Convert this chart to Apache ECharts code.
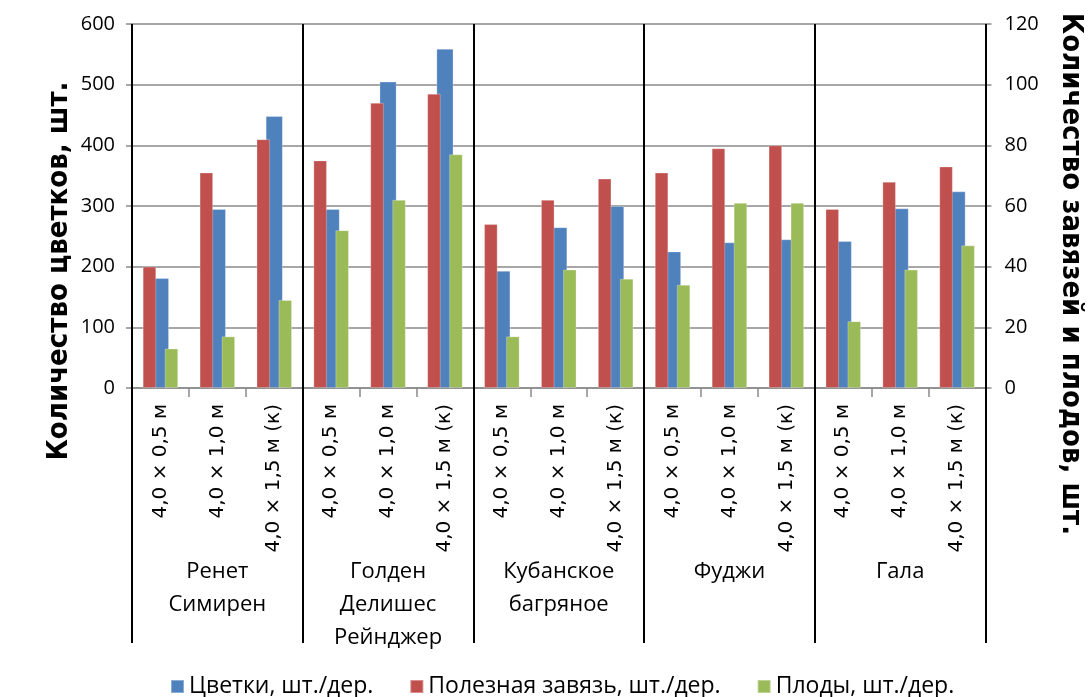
<!DOCTYPE html>
<html>
<head>
<meta charset="utf-8">
<script src="https://cdn.jsdelivr.net/npm/echarts@6/dist/echarts.min.js"></script>
<style>
  html, body { margin: 0; padding: 0; background: #fff; }
  #chart { width: 1092px; height: 697px; }
</style>
</head>
<body>
<div id="chart"></div>
<script>
// Apple varieties and planting schemes
const varieties = ['Ренет\nСимирен', 'Голден\nДелишес\nРейнджер', 'Кубанское\nбагряное', 'Фуджи', 'Гала'];
const schemes = ['4,0 × 0,5 м', '4,0 × 1,0 м', '4,0 × 1,5 м (к)'];
const categories = varieties.flatMap(() => schemes);

// Values per tree (left axis: flowers; right axis: fruit set and fruits)
const flowers = [181, 295, 448, 295, 505, 559, 193, 265, 300, 225, 240, 245, 242, 296, 324];
const fruitSet = [40, 71, 82, 75, 94, 97, 54, 62, 69, 71, 79, 80, 59, 68, 73];
const fruits = [13, 17, 29, 52, 62, 77, 17, 39, 36, 34, 61, 61, 22, 39, 47];

const leftTicks = { min: 0, max: 600, interval: 100 };
const rightTicks = { min: 0, max: 120, interval: 20 };

const seriesNames = ['Цветки, шт./дер.', 'Полезная завязь, шт./дер.', 'Плоды, шт./дер.'];
const colors = ['#4F81BD', '#C0504D', '#9BBB59'];

const txtFont = '"Open Sans", "Noto Sans", sans-serif';
const catFont = '"DejaVu Sans", sans-serif';
const titleFont = '"Liberation Sans Narrow", "DejaVu Sans Condensed", "Liberation Sans", sans-serif';
const gridGray = '#8a8a8a';

const chart = echarts.init(document.getElementById('chart'), null, { renderer: 'canvas' });

chart.setOption({
  animation: false,
  backgroundColor: '#fff',
  color: colors,
  grid: { left: 132, right: 106.5, top: 24, bottom: 309, outerBoundsMode: 'none' },
  legend: {
    data: seriesNames,
    left: 165,
    top: 670,
    icon: 'rect',
    itemWidth: 13,
    itemHeight: 13,
    itemGap: 36,
    textStyle: { fontFamily: txtFont, fontSize: 23, color: '#000' }
  },
  xAxis: [
    {
      type: 'category',
      data: categories,
      position: 'bottom',
      axisLine: { show: true, lineStyle: { color: gridGray, width: 1.5 } },
      axisTick: { show: true, interval: 0, length: 9, lineStyle: { color: gridGray, width: 1.5 } },
      axisLabel: {
        interval: 0, rotate: 90, margin: 16,
        fontFamily: catFont, fontSize: 20, color: '#000'
      },
      splitLine: { show: false }
    },
    {
      type: 'category',
      data: categories,
      position: 'bottom',
      show: false
    },
    {
      type: 'category',
      data: varieties,
      position: 'bottom',
      axisLine: { show: false },
      axisTick: { show: true, interval: 0, length: 255, lineStyle: { color: '#000', width: 2 } },
      axisLabel: {
        interval: 0, margin: 167, lineHeight: 33,
        fontFamily: txtFont, fontSize: 22, color: '#000'
      },
      splitLine: { show: true, interval: 0, lineStyle: { color: '#000', width: 2 } },
      z: 5
    }
  ],
  yAxis: [
    {
      type: 'value',
      position: 'left',
      min: leftTicks.min, max: leftTicks.max, interval: leftTicks.interval,
      axisLine: { show: true, lineStyle: { color: gridGray, width: 1.5 } },
      axisTick: { show: true, length: 6, lineStyle: { color: gridGray, width: 1.5 } },
      axisLabel: { margin: 17, fontFamily: txtFont, fontSize: 20, color: '#000' },
      splitLine: { show: true, lineStyle: { color: gridGray, width: 1.5 } }
    },
    {
      type: 'value',
      position: 'right',
      min: rightTicks.min, max: rightTicks.max, interval: rightTicks.interval,
      axisLine: { show: true, lineStyle: { color: gridGray, width: 1.5 } },
      axisTick: { show: true, length: 6, lineStyle: { color: gridGray, width: 1.5 } },
      axisLabel: { margin: 19, fontFamily: txtFont, fontSize: 20, color: '#000' },
      splitLine: { show: false }
    }
  ],
  series: [
    {
      name: seriesNames[0], type: 'bar', xAxisIndex: 0, yAxisIndex: 0,
      data: flowers, barWidth: 17,
      itemStyle: { color: colors[0], borderColor: 'rgba(255,255,255,0.35)', borderWidth: 0.8 }
    },
    {
      name: seriesNames[1], type: 'bar', xAxisIndex: 1, yAxisIndex: 1,
      data: fruitSet, barWidth: 13.4, barGap: '64%',
      itemStyle: { color: colors[1], borderColor: 'rgba(255,255,255,0.35)', borderWidth: 0.8 }
    },
    {
      name: seriesNames[2], type: 'bar', xAxisIndex: 1, yAxisIndex: 1,
      data: fruits, barWidth: 13.4, barGap: '64%',
      itemStyle: { color: colors[2], borderColor: 'rgba(255,255,255,0.35)', borderWidth: 0.8 }
    }
  ],
  graphic: [
    {
      type: 'text', x: 59, y: 271, rotation: Math.PI / 2,
      style: {
        text: 'Количество цветков, шт.', fill: '#000',
        font: 'bold 29px ' + titleFont, align: 'center', verticalAlign: 'middle'
      }
    },
    {
      type: 'text', x: 1071, y: 274, rotation: -Math.PI / 2,
      style: {
        text: 'Количество завязей и плодов, шт.', fill: '#000',
        font: 'bold 29px ' + titleFont, align: 'center', verticalAlign: 'middle'
      }
    }
  ]
});
</script>
</body>
</html>
